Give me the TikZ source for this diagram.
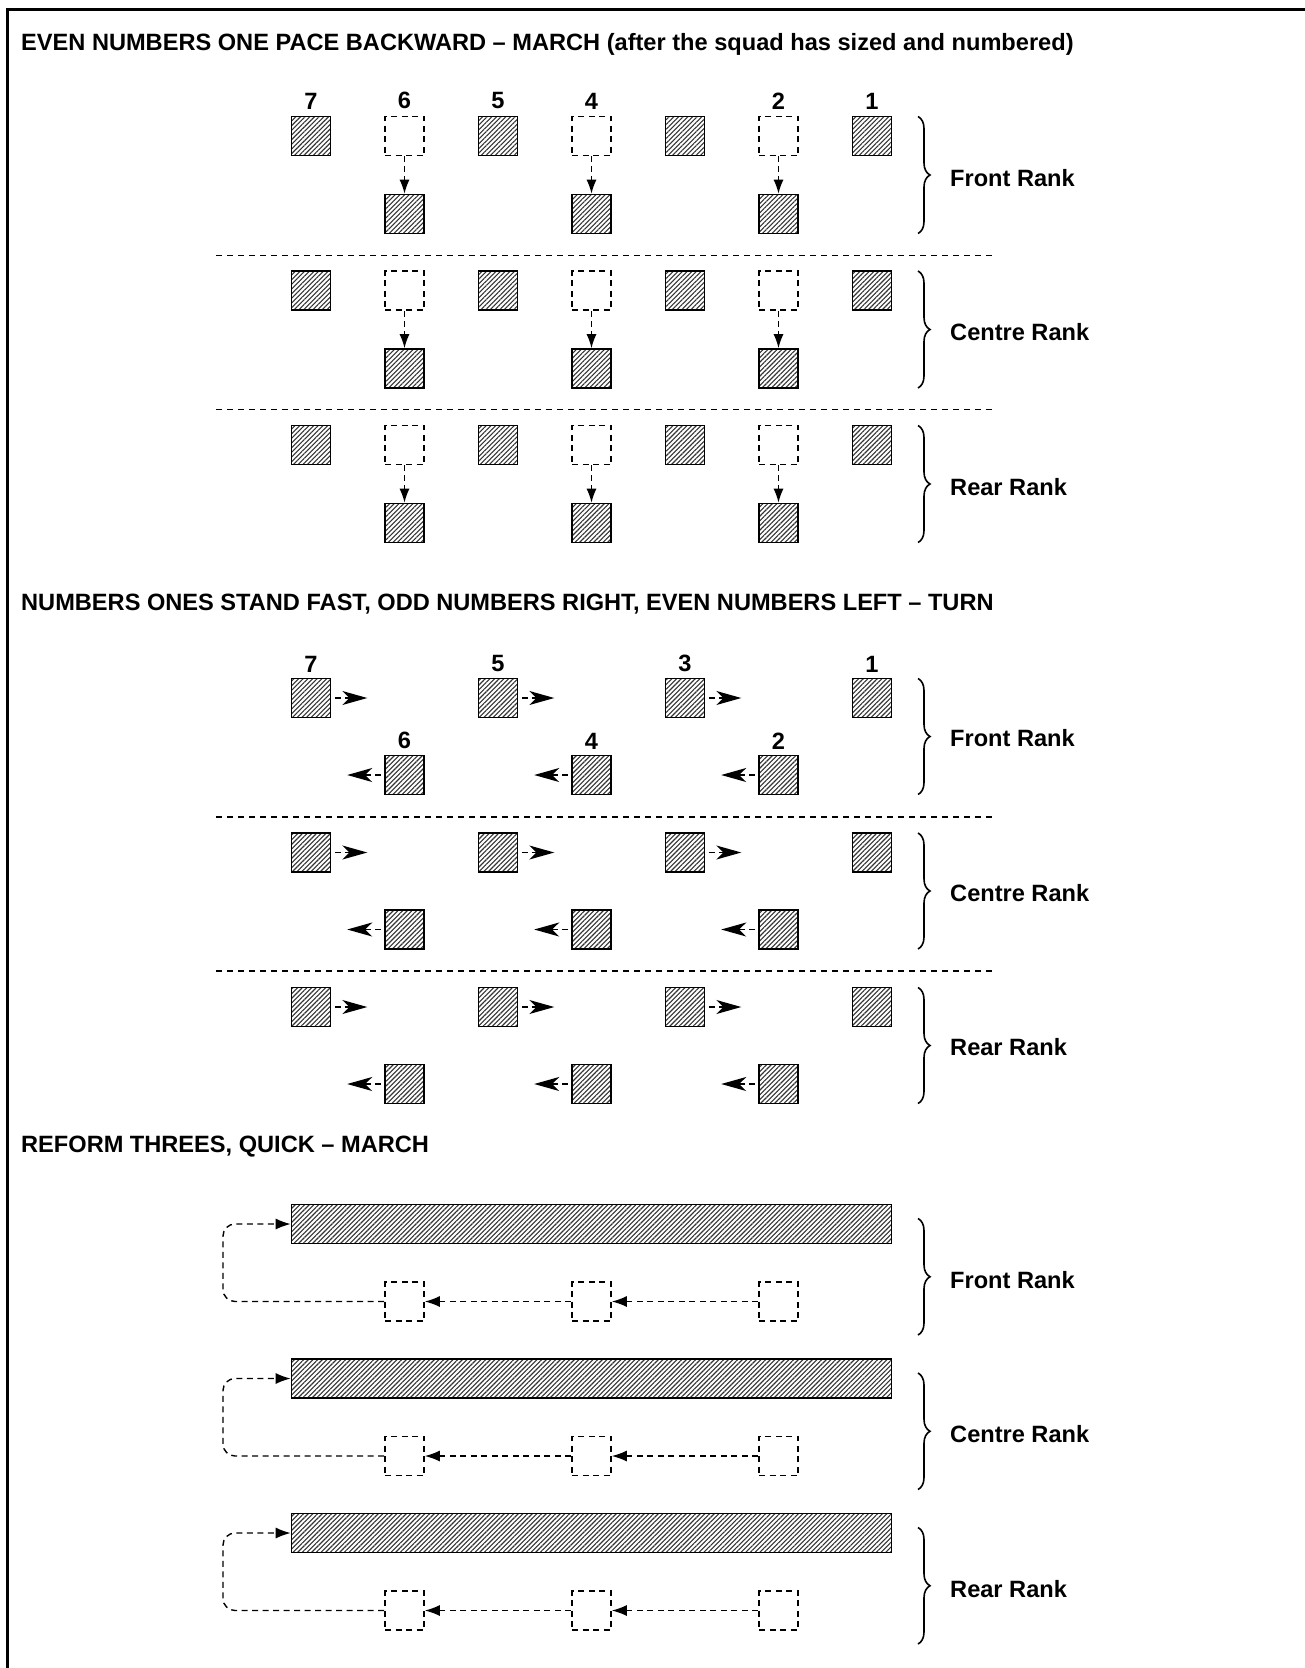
\documentclass[tikz,border=0pt]{standalone}
\usepackage{fontspec}
\setmainfont{Liberation Sans}
\usetikzlibrary{positioning,arrows.meta,patterns.meta,decorations.pathreplacing,calc}

\tikzset{
  man/.style={draw, line width=1.6pt, minimum size=39pt, inner sep=0pt,
    pattern={Lines[angle=45,distance=3.3pt,line width=1.1pt]}, pattern color=black!80},
  ghost/.style={draw, line width=1.6pt, dash pattern=on 6pt off 4.5pt, minimum size=39pt, inner sep=0pt},
  num/.style={font=\fontsize{23.6}{28}\selectfont\bfseries, inner sep=0pt},
  heading/.style={anchor=base west, font=\fontsize{23.6}{28}\selectfont\bfseries, inner sep=0pt},
  rank/.style={anchor=west, font=\fontsize{23.6}{28}\selectfont\bfseries, inner sep=0pt},
  sep/.style={line width=1.4pt, dash pattern=on 6pt off 5pt},
  rankbrace/.style={decorate, decoration={brace, amplitude=12pt}, line width=1.6pt},
  pace/.style={line width=1.4pt, dash pattern=on 6pt off 4pt, -{Latex[length=14pt,width=10pt]}},
  turn/.style={line width=1.4pt, dash pattern=on 6pt off 4pt, shorten <=3.5pt, -{Stealth[length=25pt,width=14pt,inset=7pt]}},
  file/.style={line width=1.4pt, dash pattern=on 6pt off 4.5pt, -{Latex[length=15pt,width=11pt]}},
}

\begin{document}
\begin{tikzpicture}[x=1pt, y=-1pt]
\useasboundingbox (0,0) rectangle (1304,1668);
% frame
\draw[line width=3pt] (7,1690) -- (7,9.5) -- (1320,9.5);

% even numbers one pace backward
\node[heading] (head1) at (21,50) {EVEN NUMBERS ONE PACE BACKWARD – MARCH (after the squad has sized and numbered)};
\foreach \r/\rname in {0/Front, 1/Centre, 2/Rear} {
  \pgfmathsetmacro\ytop{136+154.5*\r}
  \pgfmathsetmacro\ybot{\ytop+78}
  \foreach \c in {0,2,4,6}
    \node[man] (a\r\c) at (311+93.5*\c,\ytop) {};
  \foreach \c in {1,3,5} {
    \node[ghost] (a\r\c) at (311+93.5*\c,\ytop) {};
    \node[man] (b\r\c) at (311+93.5*\c,\ybot) {};
    \draw[pace] (a\r\c) -- (b\r\c);
  }
  \draw[rankbrace] (918,\ytop-19.5) -- (918,\ybot+19.5);
  \node[rank] (ra\r) at (950,{(\ytop+\ybot)/2+3}) {\rname\ Rank};
}
\foreach \c in {0,1,2,3,5,6} {
  \pgfmathtruncatemacro\lbl{7-\c}
  \node[num, above=6.5pt of a0\c] (na\c) {\lbl};
}
\foreach \y in {255.5,409.5}
  \draw[sep] (216,\y) -- (993,\y);

% ones stand fast, odd right, even left
\node[heading] (head2) at (21,610) {NUMBERS ONES STAND FAST, ODD NUMBERS RIGHT, EVEN NUMBERS LEFT – TURN};
\foreach \r/\rname in {0/Front, 1/Centre, 2/Rear} {
  \pgfmathsetmacro\yodd{698+154.5*\r}
  \pgfmathsetmacro\yeven{\yodd+77}
  \node[man] (c\r6) at (872,\yodd) {};
  \foreach \c in {0,2,4} {
    \node[man] (c\r\c) at (311+93.5*\c,\yodd) {};
    \coordinate[right=36pt of c\r\c] (cr\r\c);
    \draw[turn] (c\r\c) -- (cr\r\c);
  }
  \foreach \c in {1,3,5} {
    \node[man] (d\r\c) at (311+93.5*\c,\yeven) {};
    \coordinate[left=37pt of d\r\c] (dl\r\c);
    \draw[turn] (d\r\c) -- (dl\r\c);
  }
  \draw[rankbrace] (918,\yodd-19.5) -- (918,\yeven+19.5);
  \node[rank] (rc\r) at (950,{(\yodd+\yeven)/2+2}) {\rname\ Rank};
}
\foreach \c in {0,2,4,6} {
  \pgfmathtruncatemacro\lbl{7-\c}
  \node[num, above=5.5pt of c0\c] (nc\c) {\lbl};
}
\foreach \c in {1,3,5} {
  \pgfmathtruncatemacro\lbl{7-\c}
  \node[num, above=5.5pt of d0\c] (nd\c) {\lbl};
}
\foreach \y in {817,971}
  \draw[sep] (216,\y) -- (993,\y);

% reform threes
\node[heading] (head3) at (21,1152) {REFORM THREES, QUICK – MARCH};
\foreach \r/\rname in {0/Front, 1/Centre, 2/Rear} {
  \pgfmathsetmacro\ybar{1224+154.5*\r}
  \pgfmathsetmacro\yman{\ybar+77.5}
  \node[man, minimum width=600pt, minimum height=39pt] (bar\r) at (591.5,\ybar) {};
  \foreach \c in {1,3,5}
    \node[ghost] (g\r\c) at (311+93.5*\c,\yman) {};
  \draw[file] (g\r5) -- (g\r3);
  \draw[file] (g\r3) -- (g\r1);
  \coordinate (bend\r) at (223,\yman);
  \draw[file, rounded corners=12pt] (g\r1.west) -- (bend\r) |- (bar\r.west);
  \draw[rankbrace] (918,\ybar-5.5) -- (918,\yman+33.5);
  \node[rank] (rb\r) at (950,{(\ybar+\yman)/2+17}) {\rname\ Rank};
}
\end{tikzpicture}
\end{document}
